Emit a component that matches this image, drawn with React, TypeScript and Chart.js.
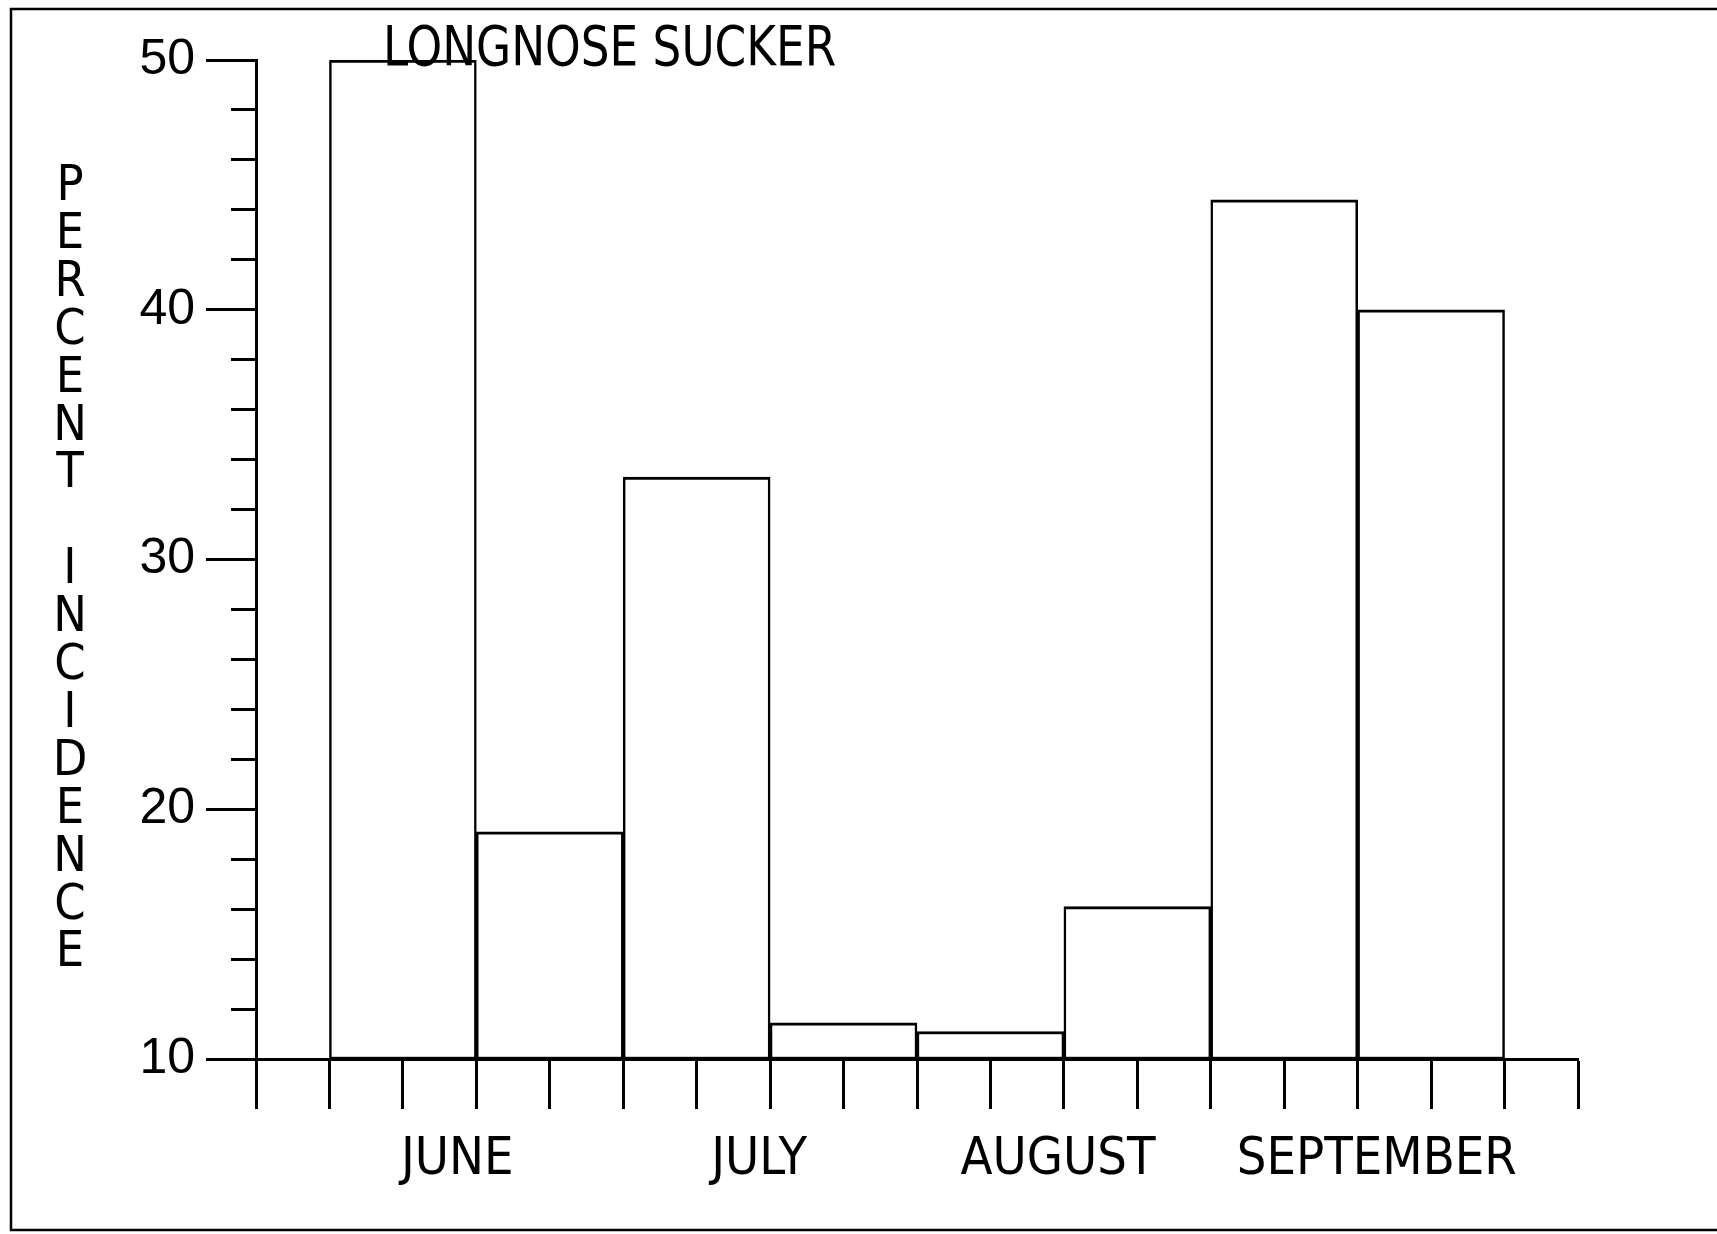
import { useEffect, useRef } from "react";
import { Chart, registerables } from "chart.js";

Chart.register(...registerables);

const TITLE = "LONGNOSE SUCKER";
const Y_TITLE = "PERCENT INCIDENCE";
const BIN_CENTERS = [2, 4, 6, 8, 10, 12, 14, 16];
const PERCENT_INCIDENCE = [50, 19.1, 33.3, 11.45, 11.1, 16.1, 44.4, 40.0];
const MONTHS = ["JUNE", "JULY", "AUGUST", "SEPTEMBER"];
const MONTH_POSITIONS = [2.74, 6.85, 10.92, 15.26];
const Y_MAJOR_TICKS = [10, 20, 30, 40, 50];
const X_MIN = 0;
const X_MAX = 18;
const Y_MIN = 10;
const Y_MAX = 50;

const NARROW = '"Liberation Sans Narrow", "DejaVu Sans Condensed", "Liberation Sans", sans-serif';
const REGULAR = '"Liberation Sans", Arial, sans-serif';

const W = 1717;
const H = 1234;

const decorPlugin = {
  id: "decor",
  afterDraw(chart: any) {
    const ctx = chart.ctx as CanvasRenderingContext2D;
    ctx.save();
    ctx.strokeStyle = "#000";
    ctx.lineWidth = 2.5;
    ctx.beginPath();
    ctx.moveTo(W, 9);
    ctx.lineTo(11, 9);
    ctx.lineTo(11, 1230);
    ctx.lineTo(W, 1230);
    ctx.stroke();

    ctx.fillStyle = "#000";
    ctx.textBaseline = "alphabetic";

    // title, horizontally condensed like the plotter lettering
    ctx.save();
    ctx.font = `56px ${NARROW}`;
    ctx.textAlign = "left";
    ctx.translate(383, 65);
    ctx.scale(0.9, 1);
    ctx.fillText(TITLE, 0, 0);
    ctx.restore();

    // stacked y-axis title letters
    ctx.font = `50px ${NARROW}`;
    ctx.textAlign = "center";
    Array.from(Y_TITLE).forEach((ch, i) => {
      if (ch !== " ") ctx.fillText(ch, 70, 200 + i * 47.9);
    });
    ctx.restore();
  },
};

export default function App() {
  const ref = useRef<HTMLCanvasElement | null>(null);

  useEffect(() => {
    if (!ref.current) return;
    const chart = new Chart(ref.current, {
      type: "bar",
      data: {
        datasets: [
          {
            label: "Percent incidence",
            data: BIN_CENTERS.map((x, i) => ({ x, y: PERCENT_INCIDENCE[i] })),
            base: Y_MIN,
            backgroundColor: "#ffffff",
            borderColor: "#000000",
            borderWidth: { top: 3, left: 2.5, right: 2.5, bottom: 2 },
            borderSkipped: false,
            barThickness: "flex",
            barPercentage: 1,
            categoryPercentage: 1,
            xAxisID: "x",
            yAxisID: "y",
          } as any,
        ],
      },
      options: {
        responsive: false,
        animation: false,
        devicePixelRatio: 1,
        layout: { padding: { top: 60, right: 139, bottom: 0, left: 0 } },
        plugins: {
          legend: { display: false },
          title: { display: false },
          tooltip: { enabled: false },
        },
        scales: {
          x: {
            type: "linear",
            position: "bottom",
            min: X_MIN,
            max: X_MAX,
            offset: false,
            weight: 0,
            z: 1,
            ticks: { display: false, stepSize: 1 },
            grid: {
              offset: false,
              drawOnChartArea: false,
              drawTicks: true,
              tickLength: 50,
              tickWidth: 3,
              tickColor: "#000",
            },
            border: { display: true, color: "#000", width: 3 },
            afterFit: (s: any) => {
              s.height = 50;
            },
          },
          xm: {
            type: "linear",
            position: "bottom",
            min: X_MIN,
            max: X_MAX,
            offset: false,
            weight: 1,
            afterBuildTicks: (s: any) => {
              s.ticks = MONTH_POSITIONS.map((v) => ({ value: v }));
            },
            ticks: {
              autoSkip: false,
              maxRotation: 0,
              minRotation: 0,
              padding: 20,
              color: "#000",
              font: { family: NARROW, size: 52 },
              callback: (_v: any, i: number) => MONTHS[i],
            },
            grid: { display: false, drawTicks: false, offset: false },
            border: { display: false },
            afterFit: (s: any) => {
              s.height = 125;
            },
          },
          y: {
            type: "linear",
            position: "left",
            min: Y_MIN,
            max: Y_MAX,
            weight: 0,
            z: 1,
            ticks: { display: false, stepSize: 2 },
            grid: {
              drawOnChartArea: false,
              drawTicks: true,
              tickLength: 25,
              tickWidth: 3,
              tickColor: "#000",
            },
            border: { display: true, color: "#000", width: 3 },
            afterFit: (s: any) => {
              s.width = 25;
            },
          },
          yMajor: {
            type: "linear",
            position: "left",
            min: Y_MIN,
            max: Y_MAX,
            weight: 1,
            afterBuildTicks: (s: any) => {
              s.ticks = Y_MAJOR_TICKS.map((v) => ({ value: v }));
            },
            ticks: {
              padding: 11,
              color: "#000",
              font: { family: REGULAR, size: 50 },
            },
            grid: {
              drawOnChartArea: false,
              drawTicks: true,
              tickLength: 25,
              tickWidth: 3,
              tickColor: "#000",
            },
            border: { display: false },
            afterFit: (s: any) => {
              s.width = 231;
            },
          },
        },
      } as any,
      plugins: [decorPlugin],
    });
    return () => chart.destroy();
  }, []);

  return (
    <canvas
      ref={ref}
      width={W}
      height={H}
      style={{ position: "absolute", left: 0, top: 0, display: "block" }}
    />
  );
}
